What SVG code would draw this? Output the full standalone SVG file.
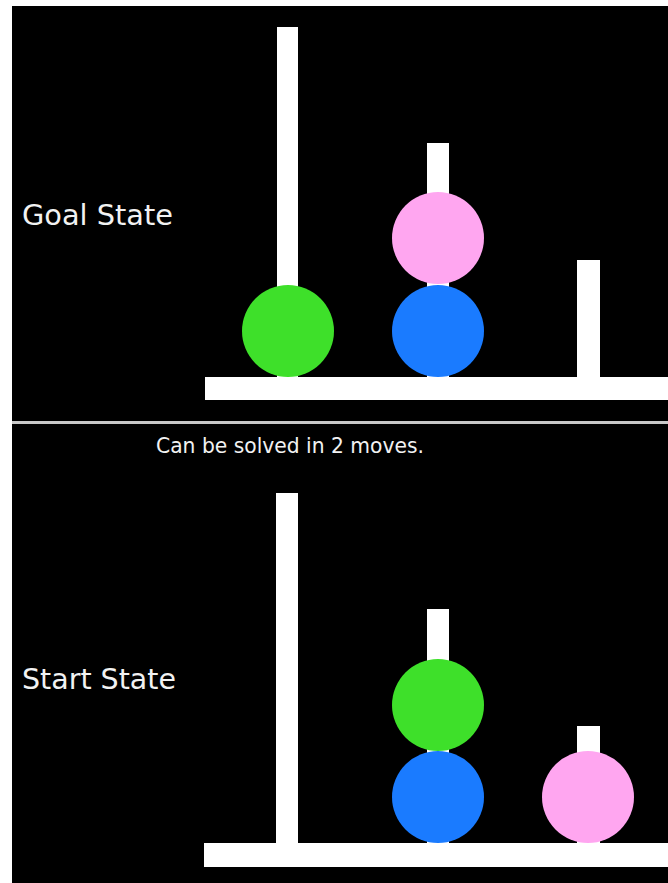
<svg xmlns="http://www.w3.org/2000/svg" width="668" height="883" viewBox="0 0 668 883">
<style>
.panel{fill:#000}
.peg{fill:#fff}
.lbl{font-family:"DejaVu Sans",Verdana,sans-serif;font-size:28px;fill:#f2f2f2}
.cap{font-family:"DejaVu Sans",Verdana,sans-serif;font-size:21px;fill:#f2f2f2}
.green{fill:#3ee02a}
.blue{fill:#1a7bff}
.pink{fill:#ffa6f0}
</style>
<rect width="668" height="883" fill="#fff"/>
<rect class="panel" x="12" y="6" width="656" height="415"/>
<rect x="12" y="421" width="656" height="3" fill="#c8c8c8"/>
<rect class="panel" x="12" y="424" width="656" height="459"/>
<g id="goal">
<text class="lbl" x="22" y="225" textLength="151" lengthAdjust="spacingAndGlyphs">Goal State</text>
<rect class="peg" x="277" y="27" width="21" height="352"/>
<rect class="peg" x="427" y="143" width="22" height="236"/>
<rect class="peg" x="577" y="260" width="23" height="119"/>
<rect class="peg" x="205" y="377" width="463" height="23"/>
<circle class="green" cx="288" cy="331" r="46"/>
<circle class="blue" cx="438" cy="331" r="46"/>
<circle class="pink" cx="438" cy="238" r="46"/>
</g>
<text class="cap" x="156" y="453" textLength="268" lengthAdjust="spacingAndGlyphs">Can be solved in 2 moves.</text>
<g id="start">
<text class="lbl" x="22" y="689" textLength="154" lengthAdjust="spacingAndGlyphs">Start State</text>
<rect class="peg" x="276" y="493" width="22" height="352"/>
<rect class="peg" x="427" y="609" width="22" height="236"/>
<rect class="peg" x="577" y="726" width="23" height="119"/>
<rect class="peg" x="204" y="843" width="464" height="24"/>
<circle class="blue" cx="438" cy="797" r="46"/>
<circle class="green" cx="438" cy="705" r="46"/>
<circle class="pink" cx="588" cy="797" r="46"/>
</g>
</svg>
